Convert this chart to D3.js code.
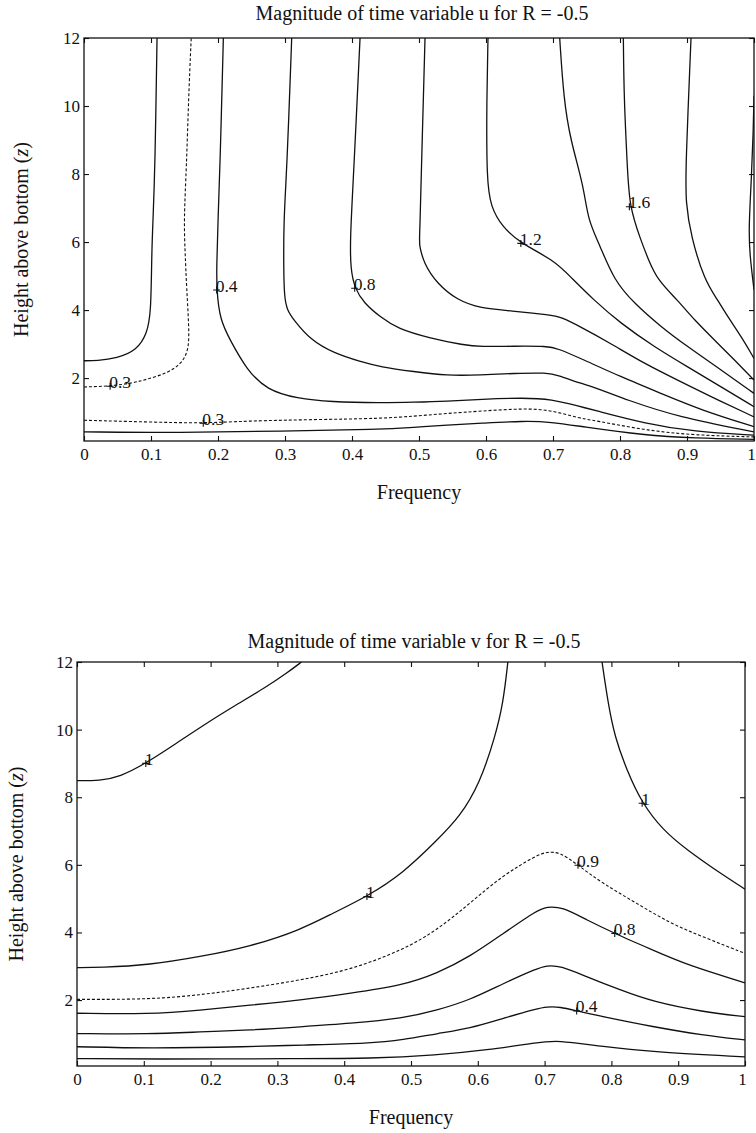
<!DOCTYPE html>
<html>
<head>
<meta charset="utf-8">
<script src="https://cdn.jsdelivr.net/npm/d3@7"></script>
<style>
  body { margin: 0; background: #fff; }
  svg { display: block; font-family: 'Liberation Serif', 'Times New Roman', serif; }
  .frame { fill: none; stroke: #111; stroke-width: 1.3; }
  .contour { fill: none; stroke: #111; stroke-width: 1.3; }
  .contour.dashed { stroke-dasharray: 3 2; stroke-width: 1.1; }
  .axis path.domain { display: none; }
  .axis line { stroke: #111; stroke-width: 1.1; }
  .title, .axis-label { fill: #111; font-size: 20px; }
  .clabel text { fill: #111; font-size: 17.5px; }
  .clabel path { stroke: #111; stroke-width: 1.1; fill: none; }
</style>
</head>
<body>
<script>
'use strict';

var frequencyTicks = [0, 0.1, 0.2, 0.3, 0.4, 0.5, 0.6, 0.7, 0.8, 0.9, 1],
    frequencyTickLabels = ['0', '0.1', '0.2', '0.3', '0.4', '0.5', '0.6',
        '0.7', '0.8', '0.9', '1'],
    heightTicks = [2, 4, 6, 8, 10, 12],
    heightTickLabels = ['2', '4', '6', '8', '10', '12'];

// u panel, contour lines as [frequency, height]
var uLevel02Upper = [[0, 2.51], [0.019, 2.51], [0.049, 2.58], [0.079, 2.82],
        [0.094, 3.31], [0.1, 3.9], [0.101, 5.67], [0.103, 6.65], [0.106, 8.2],
        [0.109, 12]],
    uLevel03Upper = [[0, 1.74], [0.039, 1.76], [0.074, 1.86], [0.093, 1.96],
        [0.124, 2.14], [0.146, 2.43], [0.156, 2.82], [0.157, 3.41],
        [0.153, 4.69], [0.151, 5.67], [0.149, 6.65], [0.153, 8.2],
        [0.156, 10.2], [0.16, 12]],
    uLevel04 = [[0.208, 12], [0.203, 8.2], [0.2, 6.65], [0.198, 5.3],
        [0.198, 4.59], [0.203, 3.71], [0.218, 3.12], [0.243, 2.24],
        [0.273, 1.65], [0.318, 1.40], [0.368, 1.30], [0.442, 1.27],
        [0.492, 1.29], [0.542, 1.32], [0.592, 1.38], [0.657, 1.42],
        [0.697, 1.38], [0.741, 1.16], [0.761, 1.06], [0.836, 0.67],
        [0.911, 0.42], [1, 0.32]],
    uLevel06 = [[0.31, 12], [0.303, 8.2], [0.298, 6.65], [0.298, 5.18],
        [0.299, 4.4], [0.303, 4.0], [0.313, 3.71], [0.338, 3.12],
        [0.373, 2.73], [0.413, 2.48], [0.442, 2.33], [0.492, 2.19],
        [0.542, 2.07], [0.592, 2.09], [0.642, 2.14], [0.692, 2.16],
        [0.707, 2.09], [0.741, 1.84], [0.761, 1.74], [0.811, 1.35],
        [0.886, 0.86], [1, 0.42]],
    uLevel08 = [[0.412, 12], [0.403, 8.2], [0.397, 6.06], [0.398, 5.2],
        [0.404, 4.64], [0.418, 4.2], [0.442, 3.8], [0.468, 3.45],
        [0.517, 3.17], [0.567, 2.97], [0.592, 2.92], [0.641, 2.94],
        [0.692, 2.94], [0.707, 2.87], [0.741, 2.58], [0.801, 2.04],
        [0.861, 1.55], [0.921, 1.06], [1, 0.57]],
    uLevel10 = [[0.509, 12], [0.505, 9.2], [0.501, 6.06], [0.5, 5.96],
        [0.507, 5.37], [0.527, 4.78], [0.557, 4.29], [0.592, 4.05],
        [0.637, 3.98], [0.697, 3.85], [0.711, 3.8], [0.741, 3.51],
        [0.786, 3.02], [0.836, 2.43], [0.886, 1.94], [0.936, 1.45], [1, 0.86]],
    uLevel12 = [[0.603, 12], [0.601, 10.2], [0.601, 7.82], [0.607, 7.04],
        [0.624, 6.45], [0.652, 5.96], [0.701, 5.47], [0.726, 4.98],
        [0.761, 4.29], [0.801, 3.61], [0.851, 2.92], [0.901, 2.33],
        [0.951, 1.74], [1, 1.16]],
    uLevel14 = [[0.71, 12], [0.716, 10.2], [0.726, 9.0], [0.746, 7.63],
        [0.752, 6.65], [0.77, 5.9], [0.791, 4.88], [0.821, 4.2],
        [0.861, 3.51], [0.901, 2.92], [0.951, 2.24], [1, 1.55]],
    uLevel16 = [[0.805, 12], [0.806, 10.2], [0.811, 8.2], [0.814, 7.04],
        [0.831, 6.06], [0.842, 5.5], [0.856, 4.88], [0.886, 4.29],
        [0.911, 3.71], [0.941, 3.12], [0.971, 2.53], [1, 1.94]],
    uLevel18 = [[0.906, 12], [0.898, 8.2], [0.898, 7.16], [0.906, 6.16],
        [0.926, 4.88], [0.946, 4.29], [0.961, 3.8], [0.981, 3.22], [1, 2.58]],
    uLevel20 = [[1, 10.3], [0.999, 9.3], [0.996, 7.8], [0.992, 6.35],
        [0.994, 5.57], [1, 4.6]],
    uLevel03Lower = [[0, 0.76], [0.093, 0.71], [0.178, 0.67], [0.243, 0.74],
        [0.343, 0.78], [0.442, 0.81], [0.492, 0.88], [0.542, 0.96],
        [0.592, 1.03], [0.657, 1.11], [0.697, 1.06], [0.741, 0.81],
        [0.761, 0.76], [0.836, 0.47], [0.911, 0.32], [1, 0.27]],
    uLevel02Lower = [[0, 0.42], [0.143, 0.39], [0.292, 0.44], [0.442, 0.49],
        [0.492, 0.55], [0.542, 0.62], [0.592, 0.67], [0.657, 0.74],
        [0.697, 0.71], [0.741, 0.58], [0.836, 0.32], [0.911, 0.23], [1, 0.2]];

var uLabelTexts = ['0.3', '0.4', '0.8', '1.2', '1.6', '0.3'],
    uLabelPoints = [[0.039, 1.76], [0.198, 4.59], [0.404, 4.64],
        [0.652, 5.96], [0.814, 7.04], [0.178, 0.67]];

// v panel
var vLevel10Left = [[0, 8.49], [0.034, 8.49], [0.064, 8.6], [0.103, 9.0],
        [0.149, 9.6], [0.194, 10.19], [0.234, 10.68], [0.284, 11.27],
        [0.314, 11.67], [0.336, 12]],
    vLevel10Middle = [[0, 2.96], [0.034, 2.96], [0.109, 3.04], [0.184, 3.28],
        [0.259, 3.58], [0.334, 4.07], [0.383, 4.57], [0.434, 5.06],
        [0.488, 5.75], [0.539, 6.73], [0.573, 7.42], [0.603, 8.41],
        [0.626, 9.79], [0.638, 10.78], [0.645, 12]],
    vLevel10Right = [[0.786, 12], [0.795, 10.78], [0.805, 9.79], [0.823, 8.8],
        [0.846, 7.82], [0.877, 7.03], [0.913, 6.44], [0.963, 5.75], [1, 5.28]],
    vLevel09 = [[0, 2.02], [0.109, 2.02], [0.184, 2.15], [0.259, 2.35],
        [0.334, 2.59], [0.409, 2.89], [0.488, 3.48], [0.539, 4.07],
        [0.588, 4.86], [0.638, 5.7], [0.689, 6.29], [0.703, 6.38],
        [0.723, 6.38], [0.75, 5.99], [0.787, 5.45], [0.838, 4.86],
        [0.888, 4.27], [0.937, 3.87], [1, 3.38]],
    vLevel08 = [[0, 1.61], [0.109, 1.58], [0.184, 1.70], [0.259, 1.85],
        [0.334, 2.0], [0.409, 2.2], [0.488, 2.44], [0.539, 2.79],
        [0.588, 3.28], [0.638, 3.97], [0.689, 4.66], [0.703, 4.76],
        [0.726, 4.76], [0.763, 4.37], [0.805, 3.97], [0.862, 3.48],
        [0.913, 3.04], [1, 2.51]],
    vLevel06 = [[0, 1.01], [0.109, 0.99], [0.184, 1.06], [0.259, 1.11],
        [0.334, 1.21], [0.409, 1.31], [0.488, 1.46], [0.539, 1.70],
        [0.588, 2.0], [0.638, 2.49], [0.689, 2.94], [0.703, 3.02],
        [0.723, 3.02], [0.763, 2.69], [0.813, 2.3], [0.862, 1.95],
        [0.937, 1.65], [1, 1.51]],
    vLevel04 = [[0, 0.62], [0.109, 0.57], [0.259, 0.62], [0.334, 0.67],
        [0.439, 0.72], [0.488, 0.82], [0.539, 1.01], [0.588, 1.16],
        [0.638, 1.46], [0.689, 1.75], [0.703, 1.8], [0.723, 1.8],
        [0.748, 1.68], [0.787, 1.51], [0.862, 1.21], [0.937, 0.96], [1, 0.82]],
    vLevel02 = [[0, 0.27], [0.109, 0.25], [0.334, 0.27], [0.439, 0.27],
        [0.539, 0.37], [0.613, 0.52], [0.689, 0.74], [0.718, 0.82],
        [0.787, 0.62], [0.862, 0.47], [1, 0.32]];

var vLabelTexts = ['1', '1', '1', '0.9', '0.8', '0.4'],
    vLabelPoints = [[0.103, 9.0], [0.434, 5.06], [0.846, 7.82],
        [0.75, 5.99], [0.805, 3.97], [0.748, 1.68]];


/**
 * Styles the tick texts of an axis group the way the scanned
 * figure shows them (serif, fairly large).
 */
var styleAxis = function (axisGroup) {
  axisGroup.attr('font-family', null).attr('font-size', null);
  axisGroup.selectAll('text')
      .attr('font-family', "'Liberation Serif', 'Times New Roman', serif")
      .attr('font-size', 17)
      .attr('fill', '#111');
};


/**
 * Draws one framed contour panel with inside ticks on every side
 * and MATLAB style "+" contour labels.
 */
var drawPanel = function (svg, options) {
  var clipId,
      g,
      labels,
      line,
      x,
      y,
      yLabel;

  x = d3.scaleLinear().domain([0, 1]).range([options.left, options.right]);
  y = d3.scaleLinear().domain([options.zMin, 12])
      .range([options.bottom, options.top]);

  g = svg.append('g');
  clipId = 'clip-' + options.name;

  g.append('clipPath').attr('id', clipId)
    .append('rect')
      .attr('x', options.left)
      .attr('y', options.top)
      .attr('width', options.right - options.left)
      .attr('height', options.bottom - options.top);

  line = d3.line()
      .x(function (d) { return x(d[0]); })
      .y(function (d) { return y(d[1]); })
      .curve(d3.curveBasis);

  g.append('g')
      .attr('clip-path', 'url(#' + clipId + ')')
    .selectAll('path')
    .data(options.contours)
    .enter().append('path')
      .attr('class', function (c) {
        return c.dashed ? 'contour dashed' : 'contour';
      })
      .attr('d', function (c) { return line(c.points); });

  // axes, ticks point inward
  g.append('g').attr('class', 'axis')
      .attr('transform', 'translate(0,' + options.bottom + ')')
      .call(d3.axisBottom(x)
          .tickValues(frequencyTicks)
          .tickFormat(function (d, i) { return frequencyTickLabels[i]; })
          .tickSizeInner(-5).tickSizeOuter(0).tickPadding(7))
      .call(styleAxis)
    .selectAll('text')
      .filter(function (d) { return d === 1; })
      .attr('dx', -3);

  g.append('g').attr('class', 'axis')
      .attr('transform', 'translate(0,' + options.top + ')')
      .call(d3.axisTop(x)
          .tickValues(frequencyTicks).tickFormat('')
          .tickSizeInner(-5).tickSizeOuter(0));

  g.append('g').attr('class', 'axis')
      .attr('transform', 'translate(' + options.left + ',0)')
      .call(d3.axisLeft(y)
          .tickValues(heightTicks)
          .tickFormat(function (d, i) { return heightTickLabels[i]; })
          .tickSizeInner(-5).tickSizeOuter(0).tickPadding(4))
      .call(styleAxis);

  g.append('g').attr('class', 'axis')
      .attr('transform', 'translate(' + options.right + ',0)')
      .call(d3.axisRight(y)
          .tickValues(heightTicks).tickFormat('')
          .tickSizeInner(-5).tickSizeOuter(0));

  g.append('rect').attr('class', 'frame')
      .attr('x', options.left)
      .attr('y', options.top)
      .attr('width', options.right - options.left)
      .attr('height', options.bottom - options.top);

  // contour labels
  labels = g.selectAll('.clabel')
      .data(options.labelPoints)
      .enter().append('g')
      .attr('class', 'clabel')
      .attr('transform', function (d) {
        return 'translate(' + x(d[0]) + ',' + y(d[1]) + ')';
      });

  labels.append('path').attr('d', 'M-3.5,0H3.5M0,-3.5V3.5');
  labels.append('text')
      .attr('x', -1)
      .attr('y', 1.5)
      .text(function (d, i) { return options.labelTexts[i]; });

  g.append('text').attr('class', 'title')
      .attr('x', (options.left + options.right) / 2 + 3)
      .attr('y', options.titleY)
      .attr('text-anchor', 'middle')
      .text(options.title);

  g.append('text').attr('class', 'axis-label')
      .attr('x', (options.left + options.right) / 2)
      .attr('y', options.xLabelY)
      .attr('text-anchor', 'middle')
      .text('Frequency');

  yLabel = g.append('text').attr('class', 'axis-label')
      .attr('transform', 'translate(' + options.yLabelX + ',' +
          ((options.top + options.bottom) / 2) + ') rotate(-90)')
      .attr('text-anchor', 'middle');
  yLabel.append('tspan').text('Height above bottom (');
  yLabel.append('tspan').attr('font-style', 'italic').text('z');
  yLabel.append('tspan').text(')');
};


var svg = d3.select('body').append('svg')
    .attr('width', 756)
    .attr('height', 1133);

drawPanel(svg, {
  name: 'u',
  title: 'Magnitude of time variable u for R = -0.5',
  left: 84, right: 754, top: 38, bottom: 441,
  zMin: 0.15,
  titleY: 20, xLabelY: 499, yLabelX: 28,
  contours: [
    {points: uLevel02Upper}, {points: uLevel03Upper, dashed: true},
    {points: uLevel04}, {points: uLevel06}, {points: uLevel08},
    {points: uLevel10}, {points: uLevel12}, {points: uLevel14},
    {points: uLevel16}, {points: uLevel18}, {points: uLevel20},
    {points: uLevel03Lower, dashed: true}, {points: uLevel02Lower}
  ],
  labelTexts: uLabelTexts,
  labelPoints: uLabelPoints
});

drawPanel(svg, {
  name: 'v',
  title: 'Magnitude of time variable v for R = -0.5',
  left: 77, right: 745, top: 662, bottom: 1066,
  zMin: 0.05,
  titleY: 648, xLabelY: 1124, yLabelX: 23,
  contours: [
    {points: vLevel10Left}, {points: vLevel10Middle}, {points: vLevel10Right},
    {points: vLevel09, dashed: true}, {points: vLevel08}, {points: vLevel06},
    {points: vLevel04}, {points: vLevel02}
  ],
  labelTexts: vLabelTexts,
  labelPoints: vLabelPoints
});
</script>
</body>
</html>
